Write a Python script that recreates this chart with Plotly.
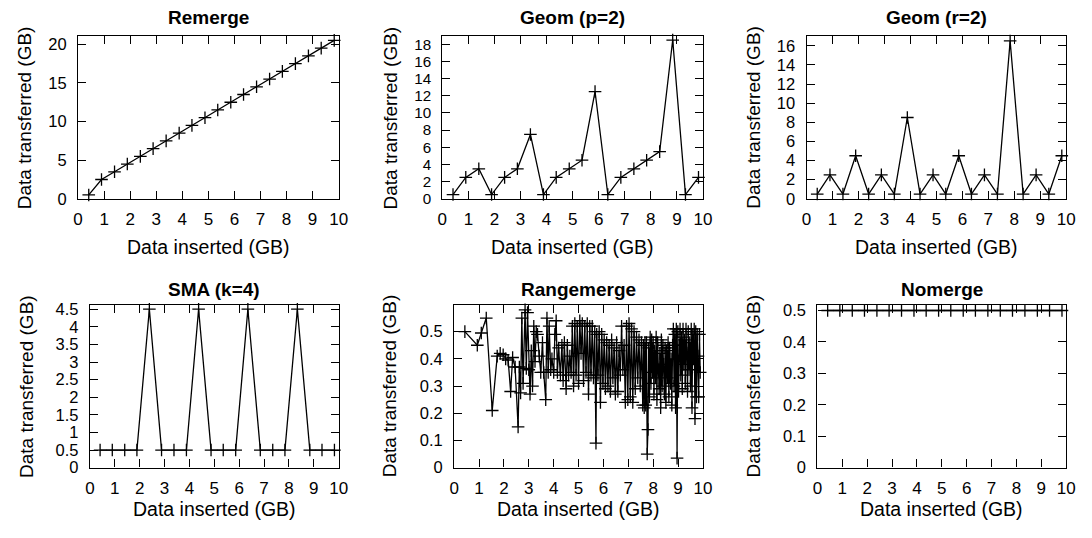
import plotly.graph_objects as go

# ---------------- data ----------------
x_inserted = [0.41, 0.90, 1.40, 1.89, 2.39, 2.88, 3.38, 3.88, 4.37, 4.87,
              5.36, 5.86, 6.35, 6.85, 7.35, 7.84, 8.34, 8.84, 9.33, 9.83]

remerge = [0.5, 2.5, 3.5, 4.5, 5.5, 6.5, 7.5, 8.5, 9.5, 10.5,
           11.5, 12.5, 13.5, 14.5, 15.5, 16.5, 17.5, 18.5, 19.5, 20.5]

geom_p2 = [0.5, 2.5, 3.5, 0.5, 2.5, 3.5, 7.5, 0.5, 2.5, 3.5,
           4.5, 12.5, 0.5, 2.5, 3.5, 4.5, 5.5, 18.5, 0.5, 2.5]

geom_r2 = [0.5, 2.5, 0.5, 4.5, 0.5, 2.5, 0.5, 8.5, 0.5, 2.5,
           0.5, 4.5, 0.5, 2.5, 0.5, 16.5, 0.5, 2.5, 0.5, 4.5]

sma_k4 = [0.5, 0.5, 0.5, 0.5, 4.5, 0.5, 0.5, 0.5, 4.5, 0.5,
          0.5, 0.5, 4.5, 0.5, 0.5, 0.5, 4.5, 0.5, 0.5, 0.5]

nomerge = [0.5] * 20

range_x = [0.43, 0.93, 1.09, 1.29, 1.53, 1.73, 1.85, 1.97, 2.07, 2.17, 2.27, 2.35,
           2.45, 2.57, 2.62, 2.67, 2.72, 2.77, 2.85, 2.90, 2.95, 3.00,
           3.05, 3.10, 3.15, 3.20, 3.25, 3.30, 3.35, 3.42, 3.48, 3.55, 3.60, 3.68,
           3.73, 3.78, 3.82, 3.88, 3.93, 4.00, 4.05, 4.10, 4.15, 4.20, 4.27, 4.33,
           4.38, 4.43, 4.50, 4.55, 4.60, 4.65, 4.70, 4.75, 4.80,
           4.85, 4.90, 4.95, 5.00, 5.05, 5.10, 5.15, 5.20, 5.25, 5.30, 5.35, 5.40,
           5.45, 5.50, 5.55, 5.60, 5.65, 5.70, 5.73, 5.78, 5.83, 5.88, 5.93, 5.98,
           6.03, 6.08, 6.13, 6.18, 6.23, 6.28, 6.33, 6.38, 6.43, 6.48, 6.53, 6.58,
           6.63, 6.68, 6.73, 6.78, 6.83, 6.88, 6.93, 6.98, 7.03, 7.08, 7.13, 7.18,
           7.23, 7.28, 7.33, 7.38, 7.43, 7.48, 7.53, 7.58,
           7.61, 7.64, 7.67, 7.70, 7.73, 7.76, 7.79, 7.82, 7.85, 7.88, 7.91, 7.94,
           7.97, 8.00, 8.03, 8.06, 8.09, 8.12, 8.15, 8.18, 8.21, 8.24, 8.27, 8.30,
           8.33, 8.36, 8.39, 8.42, 8.45, 8.48, 8.51, 8.54, 8.57, 8.60, 8.63, 8.66,
           8.69, 8.72, 8.75, 8.78,
           8.81, 8.84, 8.87, 8.90, 8.93, 8.96, 8.99, 9.02, 9.05, 9.08, 9.11, 9.14,
           9.17, 9.20, 9.23, 9.26, 9.29, 9.32, 9.35, 9.38, 9.41, 9.44, 9.47, 9.50,
           9.53, 9.56, 9.59, 9.62, 9.65, 9.68, 9.71, 9.74, 9.77, 9.80, 9.83, 9.86,
           9.89]

range_y = [0.50, 0.45, 0.495, 0.55, 0.21, 0.41, 0.42, 0.415, 0.40, 0.395, 0.28, 0.405,
           0.37, 0.15, 0.37, 0.275, 0.55, 0.31, 0.58, 0.365, 0.57, 0.36,
           0.27, 0.43, 0.30, 0.52, 0.39, 0.50, 0.49, 0.41, 0.35, 0.46, 0.35, 0.25,
           0.55, 0.35, 0.52, 0.36, 0.40, 0.35, 0.49, 0.54, 0.35, 0.44, 0.34, 0.45,
           0.32, 0.46, 0.29, 0.45, 0.34, 0.41, 0.35, 0.52, 0.30,
           0.53, 0.34, 0.52, 0.31, 0.54, 0.42, 0.53, 0.32, 0.52, 0.35, 0.53, 0.27,
           0.52, 0.34, 0.52, 0.33, 0.50, 0.09, 0.49, 0.34, 0.50, 0.24, 0.49, 0.31,
           0.47, 0.29, 0.46, 0.30, 0.45, 0.28, 0.47, 0.33, 0.44, 0.27, 0.46, 0.28,
           0.43, 0.34, 0.52, 0.36, 0.45, 0.24, 0.52, 0.25, 0.53, 0.26, 0.51, 0.24,
           0.50, 0.29, 0.48, 0.33, 0.47, 0.30, 0.46, 0.23,
           0.45, 0.22, 0.46, 0.23, 0.46, 0.05, 0.14, 0.44, 0.26, 0.48, 0.31, 0.47,
           0.35, 0.46, 0.27, 0.43, 0.33, 0.48, 0.25, 0.46, 0.36, 0.29, 0.42, 0.22,
           0.47, 0.30, 0.45, 0.38, 0.27, 0.44, 0.24, 0.43, 0.33, 0.46, 0.26, 0.44,
           0.31, 0.40, 0.23, 0.45,
           0.51, 0.30, 0.49, 0.22, 0.51, 0.035, 0.50, 0.28, 0.45, 0.51, 0.34, 0.48,
           0.29, 0.51, 0.38, 0.47, 0.31, 0.51, 0.42, 0.28, 0.50, 0.36, 0.46, 0.30,
           0.51, 0.22, 0.49, 0.40, 0.51, 0.18, 0.50, 0.26, 0.49, 0.41, 0.26, 0.49,
           0.35]

titles = ["Remerge", "Geom (p=2)", "Geom (r=2)", "SMA (k=4)", "Rangemerge", "Nomerge"]
x_label = "Data inserted (GB)"
y_label = "Data transferred (GB)"

series = [(x_inserted, remerge), (x_inserted, geom_p2), (x_inserted, geom_r2),
          (x_inserted, sma_k4), (range_x, range_y), (x_inserted, nomerge)]

y_ranges = [[0, 21.05], [0, 18.95], [0, 17.0], [0, 4.62], [0, 0.598], [0, 0.5175]]
y_dticks = [5, 2, 2, 0.5, 0.1, 0.1]

# ---------------- layout geometry (pixels) ----------------
W, H = 1092, 538
plot_px = [  # left, right, top, bottom
    (74, 338, 32, 199), (443, 707, 32, 199), (812, 1075, 32, 199),
    (86, 338, 308, 475), (455, 707, 308, 475), (823, 1075, 308, 475),
]
ytitle_x = [20, 391, 758, 22, 389, 758]
xtitle_dy = [49, 49, 49, 42, 42, 42]
title_y = [13, 13, 13, 292, 292, 292]
ytick_size = [16.5, 15.2, 16.5, 16.5, 16.5, 16.5]

FONT = "Liberation Sans, Arial, Helvetica, sans-serif"

fig = go.Figure()
layout = dict(
    width=W, height=H,
    margin=dict(l=0, r=0, t=0, b=0),
    paper_bgcolor="white", plot_bgcolor="white",
    showlegend=False,
    font=dict(family=FONT, size=17, color="black"),
)
annotations = []

for i, ((xs, ys), title) in enumerate(zip(series, titles)):
    n = i + 1
    xa = "x" if n == 1 else f"x{n}"
    ya = "y" if n == 1 else f"y{n}"
    fig.add_trace(go.Scatter(
        x=xs, y=ys, mode="lines+markers",
        xaxis=xa, yaxis=ya,
        line=dict(color="black", width=1.3),
        marker=dict(symbol="cross-thin", size=9, color="black",
                    line=dict(color="black", width=1.3)),
        cliponaxis=False,
    ))
    l, r, t, b = plot_px[i]
    common = dict(showline=True, linecolor="black", linewidth=1.3, mirror="ticks",
                  ticks="inside", ticklen=8, tickwidth=1, tickcolor="black",
                  showgrid=False, zeroline=False)
    layout["xaxis" if n == 1 else f"xaxis{n}"] = dict(
        domain=[l / W, r / W], anchor=ya, range=[0, 10], dtick=1, tick0=0,
        ticklabelstandoff=5, tickfont=dict(family=FONT, size=17, color="black"), **common)
    layout["yaxis" if n == 1 else f"yaxis{n}"] = dict(
        domain=[1 - b / H, 1 - t / H], anchor=xa, range=y_ranges[i],
        dtick=y_dticks[i], tick0=0, ticklabelstandoff=7,
        tickfont=dict(family=FONT, size=ytick_size[i], color="black"), **common)
    # subplot title
    annotations.append(dict(text=f"<b>{title}</b>", x=(l + r) / 2 / W, y=1 - title_y[i] / H,
                            xref="paper", yref="paper", showarrow=False,
                            xanchor="center", yanchor="middle",
                            font=dict(family=FONT, size=19, color="black")))
    # x axis title
    annotations.append(dict(text=x_label, x=(l + r) / 2 / W, y=1 - (b + xtitle_dy[i]) / H,
                            xref="paper", yref="paper", showarrow=False,
                            xanchor="center", yanchor="middle",
                            font=dict(family=FONT, size=19.5, color="black")))
    # y axis title
    annotations.append(dict(text=y_label, x=ytitle_x[i] / W, y=1 - (t + b) / 2 / H,
                            xref="paper", yref="paper", showarrow=False, textangle=-90,
                            xanchor="center", yanchor="middle",
                            font=dict(family=FONT, size=19, color="black")))

layout["annotations"] = annotations
fig.update_layout(**layout)
fig.write_html("out.html")
